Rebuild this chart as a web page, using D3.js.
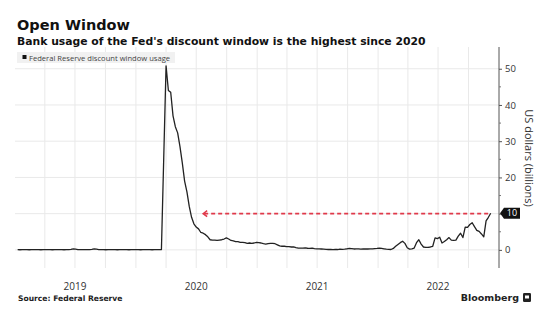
<!DOCTYPE html>
<html>
<head>
<meta charset="utf-8">
<script src="https://cdn.jsdelivr.net/npm/d3@7"></script>
<style>
  html, body { margin: 0; padding: 0; background: #fff; }
  svg { display: block; }
</style>
</head>
<body>
<svg id="chart" width="547" height="323"></svg>
<script>
// ---------------- DATA ----------------
const title = "Open Window";
const subtitle = "Bank usage of the Fed's discount window is the highest since 2020";
const seriesName = "Federal Reserve discount window usage";
const sourceText = "Source: Federal Reserve";
const yAxisTitle = "US dollars (billions)";
const firstWeek = "2019-01-09";   // weekly observations (Wednesdays)
const usage = [
  // 2019-01 .. 2020-03 (near zero)
  0.05,0.04,0.05,0.06,0.05,0.04,0.05,0.05,0.06,0.05,0.04,0.05,0.05,0.06,0.05,0.04,
  0.05,0.05,0.06,0.05,0.04,0.05,0.08,0.15,0.30,0.20,0.08,0.05,0.05,0.06,0.05,0.08,
  0.15,0.30,0.20,0.08,0.05,0.05,0.04,0.05,0.05,0.06,0.05,0.04,0.05,0.05,0.06,0.05,
  0.04,0.05,0.05,0.06,0.05,0.04,0.05,0.05,0.06,0.05,0.04,0.05,0.05,0.05,0.10,
  // 2020-03-25 .. spike
  25.5,50.8,44.0,43.5,37.0,34.0,32.3,28.5,24.0,19.0,16.0,12.0,9.0,7.2,6.3,5.8,
  4.8,4.6,4.2,3.6,2.8,2.7,2.7,2.6,2.7,2.8,3.0,3.3,3.0,2.6,2.5,2.3,
  2.3,2.1,2.1,2.0,1.8,1.9,1.8,1.9,2.1,2.0,1.9,1.7,1.6,1.7,1.8,1.8,
  1.7,1.4,1.1,1.0,1.0,0.9,0.9,0.8,0.8,0.6,0.5,0.5,0.5,0.55,0.45,0.4,
  0.5,0.35,0.3,0.3,0.25,0.2,0.15,0.1,0.1,0.05,0.1,0.1,0.2,0.15,0.2,0.3,
  0.4,0.35,0.25,0.3,0.3,0.2,0.25,0.3,0.25,0.3,0.3,0.35,0.4,0.5,0.4,0.3,
  0.2,0.15,0.1,
  // 2022
  0.4,1.0,1.5,2.0,2.4,1.8,0.6,0.2,0.3,0.5,2.0,2.8,1.6,0.8,0.7,0.7,
  0.8,1.0,3.3,3.1,3.5,1.9,2.3,2.8,3.4,2.7,2.6,2.7,3.8,4.6,3.4,6.3,
  6.2,7.0,7.5,6.4,5.4,5.1,4.4,3.6,8.0,9.0,10.1
];
const yTicks = [0, 10, 20, 30, 40, 50];
const yMinorTicks = [5, 15, 25, 35, 45];
const yearLabels = ["2019", "2020", "2021", "2022"];
const refValue = 10;
const refFrom = "2020-07-22";
const refTo = "2022-12-07";
const lastLabel = "10";

// ---------------- SETUP ----------------
const svg = d3.select("#chart");
const parse = d3.timeParse("%Y-%m-%d");
const start = parse(firstWeek);
const data = usage.map((v, i) => ({ date: d3.timeWeek.offset(start, i), value: v }));

const x = d3.scaleTime()
  .domain([new Date(2019, 0, 1), new Date(2023, 0, 1)])
  .range([15, 499]);
const y = d3.scaleLinear().domain([-5, 56]).range([268, 47]);

const gridColor = "#e9e9e9";
const textColor = "#333";
const uiFont = "Open Sans, Noto Sans, sans-serif";
const boldFont = "DejaVu Sans, sans-serif";

// gridlines
const quarters = d3.timeMonth.every(3).range(new Date(2019, 1, 1), new Date(2023, 0, 1));
svg.append("g").selectAll("line").data(quarters).join("line")
  .attr("x1", d => x(d)).attr("x2", d => x(d))
  .attr("y1", y.range()[1]).attr("y2", y.range()[0])
  .attr("stroke", gridColor).attr("stroke-width", 1);
svg.append("g").selectAll("line").data(yTicks).join("line")
  .attr("x1", x.range()[0]).attr("x2", x.range()[1])
  .attr("y1", d => y(d)).attr("y2", d => y(d))
  .attr("stroke", gridColor).attr("stroke-width", 1);

// legend
const lg = svg.append("g");
lg.append("rect").attr("x", 17).attr("y", 52).attr("width", 158).attr("height", 11)
  .attr("fill", "#f1f1f1");
lg.append("rect").attr("x", 22.5).attr("y", 55).attr("width", 4).attr("height", 4).attr("fill", "#111");
lg.append("text").attr("x", 29).attr("y", 60.5)
  .attr("font-family", uiFont).attr("font-size", 7.6)
  .attr("fill", "#444").text(seriesName);

// reference dashed line
const refG = svg.append("g");
const ry = y(refValue);
refG.append("line")
  .attr("x1", x(parse(refFrom)) + 1).attr("x2", x(parse(refTo)))
  .attr("y1", ry).attr("y2", ry)
  .attr("stroke", "#e0394a").attr("stroke-width", 1.8)
  .attr("stroke-dasharray", "4,3");
refG.append("path")
  .attr("d", `M${x(parse(refFrom)) + 4},${ry - 3} L${x(parse(refFrom))},${ry} L${x(parse(refFrom)) + 4},${ry + 3}`)
  .attr("fill", "none").attr("stroke", "#e0394a").attr("stroke-width", 1.5);

// series line
const line = d3.line().x(d => x(d.date)).y(d => y(d.value));
svg.append("path").datum(data)
  .attr("d", line)
  .attr("fill", "none").attr("stroke", "#222").attr("stroke-width", 1.3)
  .attr("stroke-linejoin", "round");

// last value tag (replaces the axis label at the same level)
const last = data[data.length - 1];

// right axis
const yAxis = d3.axisRight(y).tickValues(yTicks).tickSize(3).tickPadding(3)
  .tickFormat(d => (String(d) === lastLabel ? "" : d));
const ag = svg.append("g").attr("transform", `translate(${x.range()[1]},0)`).call(yAxis);
ag.select(".domain").attr("stroke", "#555").attr("d", `M0,${y.range()[1]}V${y.range()[0]}`);
ag.selectAll(".tick line").attr("stroke", "#555");
ag.selectAll(".tick text").attr("fill", textColor)
  .attr("font-family", uiFont).attr("font-size", 9.5);
ag.selectAll(".minor").data(yMinorTicks).join("line").attr("class", "minor")
  .attr("x1", 0).attr("x2", 2).attr("y1", d => y(d)).attr("y2", d => y(d)).attr("stroke", "#777");

const ty = y(last.value);
const tx = x.range()[1] + 1;
svg.append("path")
  .attr("d", `M${tx},${ty} L${tx + 4},${ty - 5.5} H${tx + 20} V${ty + 5.5} H${tx + 4} Z`)
  .attr("fill", "#111");
svg.append("text").attr("x", tx + 12).attr("y", ty + 3.2).attr("text-anchor", "middle")
  .attr("font-family", uiFont).attr("font-size", 9)
  .attr("fill", "#fff").text(lastLabel);

// y axis title
svg.append("text")
  .attr("transform", `translate(525,158) rotate(90)`)
  .attr("text-anchor", "middle")
  .attr("font-family", uiFont).attr("font-size", 11)
  .attr("fill", textColor).text(yAxisTitle);

// x year labels (centered mid-year)
svg.append("g").selectAll("text").data(yearLabels).join("text")
  .attr("x", d => x(new Date(+d, 6, 1)))
  .attr("y", 290)
  .attr("text-anchor", "middle")
  .attr("font-family", uiFont).attr("font-size", 10)
  .attr("fill", textColor).text(d => d);

// titles
svg.append("text").attr("x", 17).attr("y", 30)
  .attr("font-family", boldFont).attr("font-weight", "bold").attr("font-size", 14.5)
  .attr("fill", "#111").text(title);
svg.append("text").attr("x", 17).attr("y", 45)
  .attr("font-family", boldFont).attr("font-weight", "bold").attr("font-size", 10.8)
  .attr("fill", "#111").text(subtitle);

// source
svg.append("text").attr("x", 18).attr("y", 301)
  .attr("font-family", boldFont).attr("font-weight", "bold").attr("font-size", 7.6)
  .attr("fill", "#222").text(sourceText);

// Bloomberg logo
svg.append("text").attr("x", 519).attr("y", 301).attr("text-anchor", "end")
  .attr("font-family", boldFont).attr("font-weight", "bold").attr("font-size", 9.5)
  .attr("fill", "#222").text("Bloomberg");
svg.append("rect").attr("x", 523).attr("y", 293).attr("width", 8).attr("height", 9).attr("rx", 1.2)
  .attr("fill", "#222");
svg.append("rect").attr("x", 525).attr("y", 295.5).attr("width", 4).attr("height", 3)
  .attr("fill", "#fff");
</script>
</body>
</html>
